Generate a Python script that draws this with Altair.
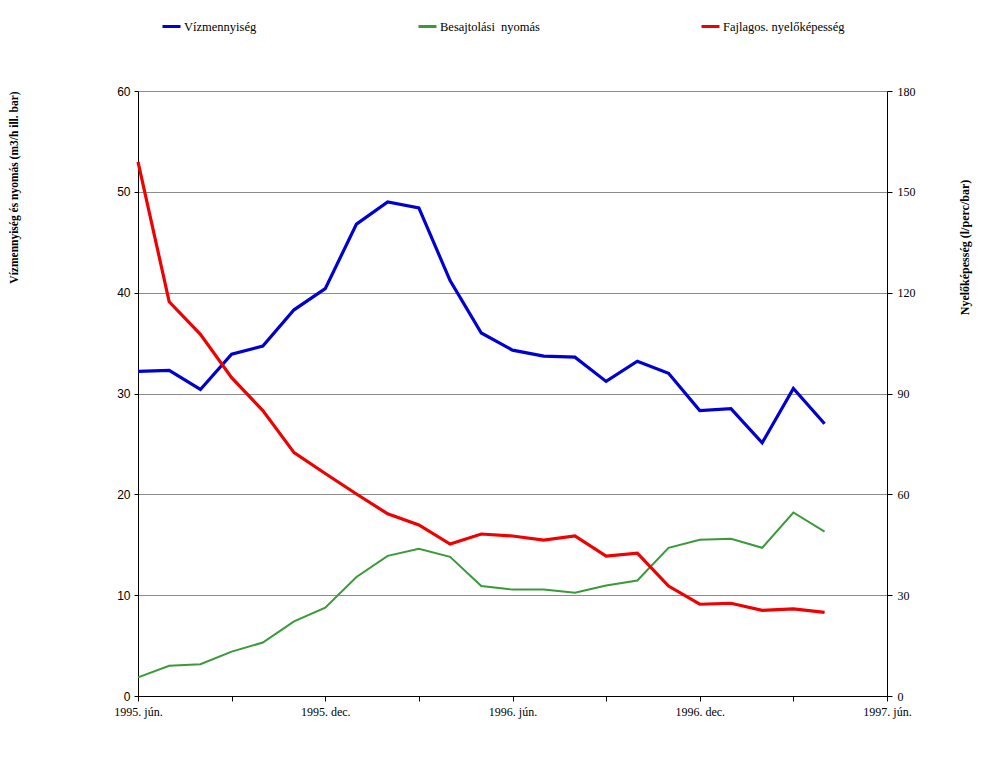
import json
import altair as alt
import pandas as pd

# ---- data ----
month_idx = list(range(23))  # monthly, 1995 jún. .. 1997 ápr.
x_tick_labels = ["1995. jún.", "1995. dec.", "1996. jún.", "1996. dec.", "1997. jún."]
series_names = ["Vízmennyiség", "Besajtolási\u00a0 nyomás", "Fajlagos. nyelőképesség"]
series_colors = ["#0000d2", "#3a9a3a", "#f00000"]

vizmennyiseg = [32.2, 32.3, 30.4, 33.9, 34.7, 38.3, 40.4, 46.8, 49.0, 48.4, 41.2, 36.0,
                34.3, 33.7, 33.6, 31.2, 33.2, 32.0, 28.3, 28.5, 25.1, 30.5, 27.0]
nyomas = [1.85, 3.0, 3.15, 4.4, 5.3, 7.4, 8.75, 11.8, 13.9, 14.6, 13.8, 10.9,
          10.55, 10.55, 10.25, 10.95, 11.45, 14.7, 15.5, 15.6, 14.7, 18.2, 16.3]
fajlagos = [158.9, 117.3, 107.6, 94.7, 84.9, 72.4, 66.2, 60.1, 54.2, 50.9, 45.2, 48.2,
            47.6, 46.4, 47.6, 41.6, 42.5, 32.7, 27.3, 27.6, 25.5, 25.9, 24.9]

df = pd.DataFrame({
    "m": month_idx * 3,
    "v": vizmennyiseg + nyomas + fajlagos,
    "series": [series_names[0]] * 23 + [series_names[1]] * 23 + [series_names[2]] * 23,
})

SERIF = "Liberation Serif, Times New Roman, serif"
SANS = "Liberation Sans, Arial, sans-serif"

label_expr = ("datum.value % 6 == 0 ? " + json.dumps(x_tick_labels, ensure_ascii=False)
              + "[datum.value / 6] : ''")

x_enc = alt.X(
    "m:Q",
    scale=alt.Scale(domain=[0, 24], nice=False, zero=False),
    axis=alt.Axis(
        title=None, values=list(range(0, 25, 3)), labelExpr=label_expr, grid=False,
        labelFlush=False, tickSize=5, labelPadding=5, domainColor="black",
        tickColor="black", labelColor="black", labelFont=SERIF,
        labelFontSize=12,
    ),
)

color_enc = alt.Color(
    "series:N",
    scale=alt.Scale(domain=series_names, range=series_colors),
    legend=alt.Legend(
        title=None, orient="none", direction="horizontal", legendX=23, legendY=-75,
        symbolType="stroke", symbolSize=324, symbolStrokeWidth=3, labelOffset=2,
        columnPadding=155, labelFont=SERIF, labelFontSize=12.5,
        labelColor="black", labelLimit=300,
    ),
)

left_axis = alt.Axis(
    title="Vízmennyiség és nyomás (m3/h ill. bar)", values=list(range(0, 61, 10)),
    grid=True, gridColor="#8c8c8c", gridWidth=1, tickSize=4, labelPadding=4,
    domainColor="black", tickColor="black", labelColor="black",
    labelFont=SANS, labelFontSize=12,
    titleFont=SERIF, titleFontSize=11.5, titleFontWeight="bold",
    titleColor="black", titleAngle=270, titleX=-124, titleY=96,
    titleAlign="center", titleBaseline="middle",
)
right_axis = alt.Axis(
    orient="right", title="Nyelőképesség (l/perc/bar)", values=list(range(0, 181, 30)),
    grid=False, tickSize=5, labelPadding=5, domainColor="black", tickColor="black",
    labelColor="black", labelFont=SERIF, labelFontSize=12,
    titleFont=SERIF, titleFontSize=12, titleFontWeight="bold",
    titleColor="black", titleAngle=270, titleX=77, titleY=156,
    titleAlign="center", titleBaseline="middle",
)

base = alt.Chart(df)

blue = base.transform_filter(alt.datum.series == series_names[0]).mark_line(strokeWidth=3.2).encode(
    x=x_enc,
    y=alt.Y("v:Q", scale=alt.Scale(domain=[0, 60], nice=False), axis=left_axis),
    color=color_enc,
)
green = base.transform_filter(alt.datum.series == series_names[1]).mark_line(strokeWidth=2).encode(
    x=x_enc,
    y=alt.Y("v:Q", scale=alt.Scale(domain=[0, 60], nice=False), axis=left_axis),
    color=color_enc,
)
red = base.transform_filter(alt.datum.series == series_names[2]).mark_line(strokeWidth=3.2).encode(
    x=x_enc,
    y=alt.Y("v:Q", scale=alt.Scale(domain=[0, 180], nice=False), axis=right_axis),
    color=color_enc,
)

left = alt.layer(blue, green)

chart = alt.layer(left, red).resolve_scale(y="independent").properties(
    width=749, height=605,
    padding={"left": 130, "top": 83, "right": 95, "bottom": 80},
    autosize="none",
).configure_view(stroke=None)

chart.save("out.html", embed_options={"renderer": "svg", "actions": False})
